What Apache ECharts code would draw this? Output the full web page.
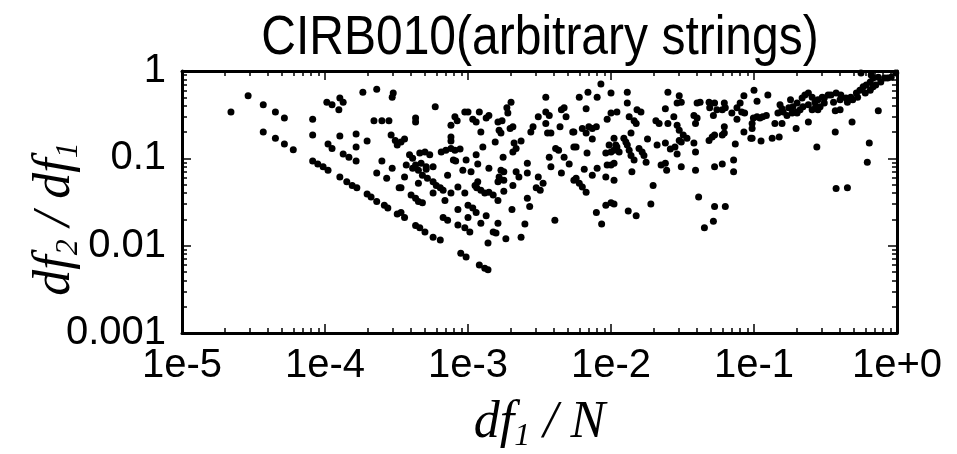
<!DOCTYPE html>
<html>
<head>
<meta charset="utf-8">
<script src="https://cdn.jsdelivr.net/npm/echarts@6/dist/echarts.min.js"></script>
<style>
    html, body { margin: 0; padding: 0; background: #fff; }
    #chart { width: 957px; height: 454px; }
</style>
</head>
<body>
<div id="chart"></div>
<script>
const titleText = 'CIRB010(arbitrary strings)';
const xTicks = [1e-5, 1e-4, 1e-3, 1e-2, 1e-1, 1];
const xTickLabels = ['1e-5', '1e-4', '1e-3', '1e-2', '1e-1', '1e+0'];
const yTicks = [0.001, 0.01, 0.1, 1];
const yTickLabels = ['0.001', '0.01', '0.1', '1'];
const minorSteps = [2, 3, 4, 5, 6, 7, 8, 9];

// df1/N, df2/df1, split by region
const pointsLow = [
    [2.2e-5, 0.34], [2.9e-5, 0.52], [3.7e-5, 0.41], [4.5e-5, 0.34], [5.2e-5, 0.29], [3.7e-5, 0.2], [4.5e-5, 0.17], [5.2e-5, 0.146], [6e-5, 0.125],
    [8.2e-5, 0.28], [8.2e-5, 0.185], [8.2e-5, 0.093], [8.9e-5, 0.086], [9.7e-5, 0.08], [1.05e-4, 0.073], [1.03e-4, 0.44], [1.12e-4, 0.41],
    [1.27e-4, 0.49], [1.34e-4, 0.44], [1.25e-4, 0.36], [1.84e-4, 0.57], [2.3e-4, 0.62], [3.0e-4, 0.56], [2.95e-4, 0.5], [2.2e-4, 0.27],
    [2.5e-4, 0.27], [2.8e-4, 0.27], [1.05e-4, 0.146], [1.12e-4, 0.13], [1.27e-4, 0.18], [1.65e-4, 0.19], [1.65e-4, 0.135], [1.97e-4, 0.158],
    [2.9e-4, 0.185], [3.1e-4, 0.16], [3.2e-4, 0.142], [1.34e-4, 0.112], [1.47e-4, 0.103], [1.65e-4, 0.093], [2.5e-4, 0.093], [2.95e-4, 0.077],
    [2.3e-4, 0.068], [2.7e-4, 0.059], [1.27e-4, 0.061], [1.42e-4, 0.054], [1.55e-4, 0.049], [1.67e-4, 0.046], [1.97e-4, 0.039], [2.1e-4, 0.036],
    [2.3e-4, 0.032], [2.6e-4, 0.029], [2.75e-4, 0.027], [3.2e-4, 0.023], [3.3e-4, 0.046],
    [5.9e-4, 0.39], [4.3e-4, 0.29], [4.3e-4, 0.26], [3.6e-4, 0.166], [3.4e-4, 0.154], [8.1e-4, 0.3], [8.4e-4, 0.27], [9.5e-4, 0.34], [1e-3, 0.34],
    [1.08e-3, 0.28], [1.14e-3, 0.26], [1.2e-3, 0.34], [7.6e-4, 0.24], [7.6e-4, 0.175], [7.6e-4, 0.158], [1.23e-3, 0.2], [1.27e-3, 0.135],
    [1.14e-3, 0.11], [3.9e-4, 0.11], [4.1e-4, 0.1], [4.6e-4, 0.115], [5e-4, 0.118], [5.4e-4, 0.11], [6.5e-4, 0.118], [7e-4, 0.124], [7.6e-4, 0.13],
    [8.1e-4, 0.124], [8.8e-4, 0.128], [7.9e-4, 0.096], [8.2e-4, 0.093], [9.7e-4, 0.096], [3.7e-4, 0.084], [4.1e-4, 0.077], [4.3e-4, 0.084],
    [4.7e-4, 0.088], [5.1e-4, 0.08], [5.7e-4, 0.08], [9.2e-4, 0.073], [1.05e-3, 0.07], [1.17e-3, 0.086], [4.5e-4, 0.073], [4.8e-4, 0.064],
    [5.1e-4, 0.075], [3.6e-4, 0.061], [4.5e-4, 0.052], [7.2e-4, 0.064], [5.2e-4, 0.059], [5.7e-4, 0.054], [6e-4, 0.049], [6.4e-4, 0.046],
    [6.7e-4, 0.043], [1.17e-3, 0.054], [1.12e-3, 0.049], [1.15e-3, 0.046], [1.23e-3, 0.043], [1.31e-3, 0.04], [3.4e-4, 0.046], [5.7e-4, 0.04],
    [7.6e-4, 0.04], [8.5e-4, 0.047], [9.5e-4, 0.04], [6.9e-4, 0.033], [4e-4, 0.038], [4.3e-4, 0.035], [4.5e-4, 0.032], [4.8e-4, 0.031],
    [8.5e-4, 0.026], [1e-3, 0.029], [1.08e-3, 0.027], [1.14e-3, 0.024], [1e-3, 0.021], [3.4e-4, 0.024], [3.6e-4, 0.021], [4.3e-4, 0.017],
    [4.6e-4, 0.016], [5e-4, 0.0143], [5.7e-4, 0.0125], [6.4e-4, 0.0116], [6.7e-4, 0.021], [7.2e-4, 0.0196], [8.5e-4, 0.0172], [9.5e-4, 0.016],
    [1.03e-3, 0.0143], [1.23e-3, 0.018], [8.9e-4, 0.0082], [9.7e-4, 0.0074], [1.2e-3, 0.006], [1.31e-3, 0.0055]
];

const pointsMid = [
    [2e-3, 0.44], [1.87e-3, 0.38], [1.9e-3, 0.33], [1.4e-3, 0.31], [1.34e-3, 0.29], [1.62e-3, 0.26], [1.73e-3, 0.27], [1.65e-3, 0.21],
    [1.7e-3, 0.195], [2.06e-3, 0.23], [1.97e-3, 0.22], [1.55e-3, 0.154], [2.35e-3, 0.158], [2.1e-3, 0.15], [2.17e-3, 0.13], [2.06e-3, 0.118],
    [1.76e-3, 0.103], [1.4e-3, 0.077], [1.7e-3, 0.073], [1.78e-3, 0.07], [1.65e-3, 0.061], [1.62e-3, 0.054], [1.78e-3, 0.056], [2.17e-3, 0.07],
    [2.27e-3, 0.061], [2.6e-3, 0.088], [2.6e-3, 0.068], [2.06e-3, 0.049], [1.78e-3, 0.042], [1.4e-3, 0.041], [1.5e-3, 0.038], [1.62e-3, 0.033],
    [3.1e-3, 0.061], [3.35e-3, 0.052], [3.2e-3, 0.043], [3e-3, 0.046], [2.6e-3, 0.035], [2.7e-3, 0.028], [2.03e-3, 0.026], [1.34e-3, 0.022],
    [1.62e-3, 0.018], [1.5e-3, 0.0143], [1.57e-3, 0.014], [1.84e-3, 0.012], [1.38e-3, 0.0107], [2.35e-3, 0.0125], [2.5e-3, 0.0177], [1.38e-3, 0.0053],
    [3.5e-3, 0.5], [3.1e-3, 0.3], [3.5e-3, 0.34], [3.7e-3, 0.31], [3.5e-3, 0.25], [3.6e-3, 0.195], [3.8e-3, 0.195], [2.75e-3, 0.2], [2.85e-3, 0.23],
    [4.5e-3, 0.36], [4.7e-3, 0.38], [4.85e-3, 0.3], [4.4e-3, 0.23], [5.4e-3, 0.2], [4.1e-3, 0.13], [4.3e-3, 0.124], [5.5e-3, 0.135], [3.7e-3, 0.103],
    [4.7e-3, 0.103], [5.1e-3, 0.086], [3.8e-3, 0.08], [4.5e-3, 0.068], [5.5e-3, 0.056], [4.05e-3, 0.0196],
    [8.5e-3, 0.71], [6.9e-3, 0.57], [6e-3, 0.5], [8e-3, 0.5], [1e-2, 0.56], [1.3e-2, 0.57], [6.7e-3, 0.37], [1.3e-2, 0.43], [1e-2, 0.33], [1.1e-2, 0.34],
    [1.34e-2, 0.3], [1.52e-2, 0.36], [1.62e-2, 0.34], [9.4e-3, 0.28], [1.45e-2, 0.27], [1.5e-2, 0.25], [2.06e-2, 0.27], [2.17e-2, 0.25], [5.5e-3, 0.2],
    [6.3e-3, 0.22], [6.7e-3, 0.195], [7e-3, 0.23], [7.4e-3, 0.22], [7.9e-3, 0.23], [7.4e-3, 0.166], [5.7e-3, 0.135], [6.8e-3, 0.115], [1.05e-2, 0.17],
    [9.7e-3, 0.142], [1.08e-2, 0.142], [1.23e-2, 0.17], [1.27e-2, 0.154], [1.3e-2, 0.142], [1.34e-2, 0.124], [1.38e-2, 0.108], [1.45e-2, 0.096],
    [1.38e-2, 0.195], [9.2e-3, 0.115], [1e-2, 0.118], [1.05e-2, 0.124], [1.1e-2, 0.135], [1.14e-2, 0.118], [1.57e-2, 0.13], [1.65e-2, 0.118],
    [1.7e-2, 0.108], [1.8e-2, 0.166], [2.1e-2, 0.142], [1.76e-2, 0.09], [9.4e-3, 0.084], [1e-2, 0.084], [1.05e-2, 0.088], [2.24e-2, 0.084],
    [6.5e-3, 0.075], [8e-3, 0.077], [7.4e-3, 0.064], [9.2e-3, 0.061], [1.05e-2, 0.056], [1.4e-2, 0.07], [5.7e-3, 0.059], [6e-3, 0.052], [6.3e-3, 0.047],
    [6.7e-3, 0.041], [1.97e-2, 0.049], [1.9e-2, 0.03], [9.2e-3, 0.029], [1e-2, 0.031], [1.05e-2, 0.03], [7.9e-3, 0.024], [1.32e-2, 0.025],
    [1.5e-2, 0.022], [8.6e-3, 0.0177]
];

const pointsHigh = [
    [2.5e-2, 0.57], [2.4e-2, 0.37], [3e-2, 0.52], [3.1e-2, 0.44], [2.9e-2, 0.43], [4e-2, 0.43], [4.2e-2, 0.44], [4.85e-2, 0.44], [4.9e-2, 0.38],
    [5.3e-2, 0.43], [5.5e-2, 0.36], [6.2e-2, 0.43], [6.3e-2, 0.38], [3.8e-2, 0.31], [4e-2, 0.29], [3.9e-2, 0.25], [2.75e-2, 0.3], [2.5e-2, 0.25],
    [2.9e-2, 0.24], [3e-2, 0.21], [5.2e-2, 0.31], [6e-2, 0.36], [7e-2, 0.33], [7.6e-2, 0.38], [8e-2, 0.43], [8.5e-2, 0.52], [7.6e-2, 0.28],
    [8.2e-2, 0.34], [8.6e-2, 0.33], [6.2e-2, 0.23], [6.2e-2, 0.195], [6e-2, 0.185], [3.2e-2, 0.185], [3.4e-2, 0.17], [3.1e-2, 0.154], [3e-2, 0.16],
    [2.4e-2, 0.15], [2.6e-2, 0.128], [2.8e-2, 0.135], [2.9e-2, 0.112], [3.8e-2, 0.15], [3.9e-2, 0.118], [4.85e-2, 0.16], [5.1e-2, 0.175],
    [5.3e-2, 0.185], [7.4e-2, 0.146], [8.5e-2, 0.2], [9.5e-2, 0.17], [2.4e-2, 0.088], [2.45e-2, 0.073], [3.1e-2, 0.08], [3.9e-2, 0.073],
    [5.3e-2, 0.08], [6e-2, 0.086], [7.2e-2, 0.096], [7.2e-2, 0.07], [4.1e-2, 0.036], [5.3e-2, 0.028], [6.3e-2, 0.028], [5.2e-2, 0.019], [4.5e-2, 0.016],
    [0.1, 0.6], [0.125, 0.53], [0.105, 0.45], [0.152, 0.41], [0.157, 0.37], [0.18, 0.47], [0.175, 0.38], [0.187, 0.39], [0.2, 0.43], [0.217, 0.49],
    [0.227, 0.53], [0.24, 0.56], [0.255, 0.5], [0.267, 0.44], [0.28, 0.47], [0.3, 0.5], [0.31, 0.49], [0.33, 0.53], [0.147, 0.33], [0.16, 0.34],
    [0.17, 0.31], [0.185, 0.33], [0.2, 0.34], [0.21, 0.36], [0.22, 0.39], [0.24, 0.41], [0.255, 0.36], [0.27, 0.39], [0.28, 0.36], [0.29, 0.39],
    [0.31, 0.43], [0.24, 0.26], [0.2, 0.33], [0.099, 0.29], [0.105, 0.3], [0.11, 0.29], [0.115, 0.3], [0.122, 0.31], [0.097, 0.25], [0.097, 0.22],
    [0.14, 0.25], [0.157, 0.25], [0.197, 0.22], [0.097, 0.17], [0.112, 0.158], [0.134, 0.17], [0.15, 0.175], [0.275, 0.135],
    [0.345, 0.53], [0.375, 0.56], [0.405, 0.53], [0.44, 0.49], [0.475, 0.5], [0.52, 0.56], [0.55, 0.6], [0.58, 0.66], [0.61, 0.69], [0.65, 0.75],
    [0.68, 0.83], [0.74, 0.85], [0.77, 0.75], [0.82, 0.83], [0.86, 0.83], [0.91, 0.85], [0.36, 0.44], [0.4, 0.47], [0.45, 0.44], [0.49, 0.47],
    [0.53, 0.5], [0.6, 0.56], [0.65, 0.6], [0.68, 0.66], [0.71, 0.69], [0.56, 0.95], [0.66, 0.9], [0.98, 0.95], [0.37, 0.35], [0.4, 0.36],
    [0.74, 0.35], [0.485, 0.26], [0.37, 0.2], [0.64, 0.15], [0.62, 0.09], [0.375, 0.045], [0.45, 0.046]
];

const tickFont = "'Liberation Sans', Arial, sans-serif";
const nameFont = "'Liberation Serif', 'Times New Roman', serif";

// minor ticks at 2..9 of every decade
const xMinor = [];
xTicks.slice(0, -1).forEach(d => minorSteps.forEach(m => xMinor.push(+(d * m).toPrecision(3))));
const yMinor = [];
yTicks.slice(0, -1).forEach(d => minorSteps.forEach(m => yMinor.push(+(d * m).toPrecision(3))));

function labelFor(ticks, labels) {
    return v => {
        const i = ticks.findIndex(t => Math.abs(Math.log10(t / v)) < 1e-6);
        return i < 0 ? '' : labels[i];
    };
}

function makeAxis(dim, position, opts) {
    const isX = dim === 'x';
    return {
        type: 'log',
        logBase: 10,
        min: isX ? 1e-5 : 0.001,
        max: 1,
        position: position,
        nameMoveOverlap: false,
        axisLine: {show: opts.line, onZero: false, lineStyle: {color: '#000', width: 3}},
        axisTick: {
            show: true, inside: true, length: opts.tickLen,
            customValues: opts.ticks,
            lineStyle: {color: '#000', width: 1.5}
        },
        axisLabel: opts.labels ? {
            show: true,
            customValues: isX ? xTicks : yTicks,
            formatter: isX ? labelFor(xTicks, xTickLabels) : labelFor(yTicks, yTickLabels),
            showMinLabel: true, showMaxLabel: true,
            hideOverlap: false,
            margin: isX ? 13 : 16,
            color: '#000', fontFamily: tickFont, fontSize: 40, lineHeight: 40
        } : {show: false},
        splitLine: {show: false},
        minorTick: {show: false}
    };
}

const subStyle = {fontFamily: nameFont, fontStyle: 'italic', fontSize: 32, lineHeight: 32, padding: [26, 0, 0, 0], verticalAlign: 'bottom', color: '#000'};
const mainStyle = {fontFamily: nameFont, fontStyle: 'italic', fontSize: 52, lineHeight: 56, verticalAlign: 'top', color: '#000'};

const xAxes = [
    makeAxis('x', 'bottom', {line: true, ticks: xTicks, tickLen: 9, labels: true}),
    makeAxis('x', 'top', {line: true, ticks: xTicks, tickLen: 9, labels: false}),
    makeAxis('x', 'bottom', {line: false, ticks: xMinor, tickLen: 5, labels: false}),
    makeAxis('x', 'top', {line: false, ticks: xMinor, tickLen: 5, labels: false})
];
xAxes[0].name = '{i|df}{s|1}{i| / N}';
xAxes[0].nameLocation = 'middle';
xAxes[0].nameGap = 64;
xAxes[0].nameTextStyle = {rich: {i: mainStyle, s: subStyle}};

const yAxes = [
    makeAxis('y', 'left', {line: true, ticks: yTicks, tickLen: 9, labels: true}),
    makeAxis('y', 'right', {line: true, ticks: yTicks, tickLen: 9, labels: false}),
    makeAxis('y', 'left', {line: false, ticks: yMinor, tickLen: 5, labels: false}),
    makeAxis('y', 'right', {line: false, ticks: yMinor, tickLen: 5, labels: false})
];
yAxes[0].name = '{i|df}{s|2}{i| / df}{s|1}';
yAxes[0].nameLocation = 'middle';
yAxes[0].nameGap = 97;
yAxes[0].nameTextStyle = {padding: [0, 34, 0, 0], rich: {i: mainStyle, s: subStyle}};

const chart = echarts.init(document.getElementById('chart'));
chart.setOption({
    animation: false,
    backgroundColor: '#fff',
    grid: {left: 182, right: 60, top: 71, bottom: 121, containLabel: false, outerBoundsMode: 'none'},
    graphic: [{
        type: 'text',
        x: 540, y: 11,
        scaleY: 1.15,
        style: {
            text: titleText, fill: '#000',
            fontFamily: "'Liberation Sans', Arial, sans-serif", fontSize: 48,
            textAlign: 'center', textVerticalAlign: 'top'
        }
    }],
    xAxis: xAxes,
    yAxis: yAxes,
    series: [{
        type: 'scatter',
        xAxisIndex: 0,
        yAxisIndex: 0,
        symbol: 'circle',
        symbolSize: 7,
        itemStyle: {color: '#000', opacity: 1},
        data: pointsLow.concat(pointsMid, pointsHigh)
    }]
});
</script>
</body>
</html>
